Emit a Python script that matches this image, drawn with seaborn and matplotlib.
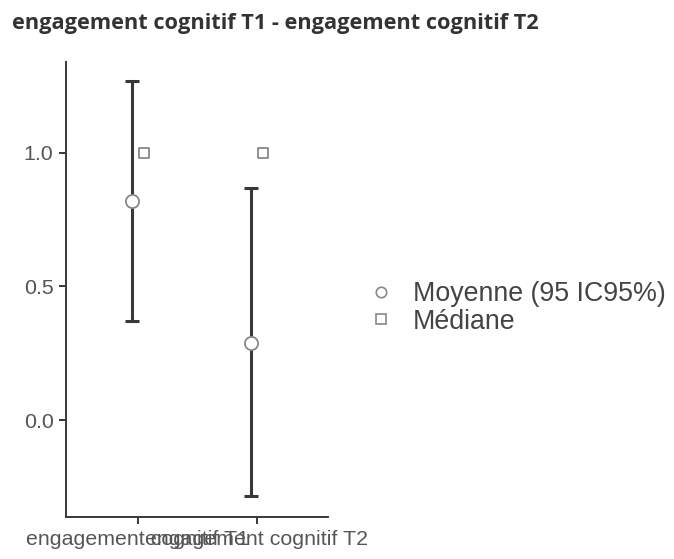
import numpy as np
import pandas as pd
import matplotlib
matplotlib.use("Agg")
import matplotlib.pyplot as plt
import seaborn as sns
from matplotlib.lines import Line2D

# ---- data ----
categories = ["engagement cognitif T1", "engagement cognitif T2"]
means = [0.82, 0.29]
ci_low = [0.37, -0.285]
ci_high = [1.27, 0.868]
medians = [1.0, 1.0]
title = "engagement cognitif T1 - engagement cognitif T2"

df = pd.DataFrame({
    "cat": categories,
    "mean": means,
    "low": ci_low,
    "high": ci_high,
    "median": medians,
})
df["pos"] = np.arange(len(df))

sns.set_style("ticks")
plt.rcParams["font.family"] = ["Liberation Sans", "DejaVu Sans"]

fig = plt.figure(figsize=(6.74, 5.59), dpi=100)
ax = fig.add_axes([0.098, 0.075, 0.389, 0.814])

dark = "#383838"
grey = "#888888"

# error bars (95% CI) slightly left of the tick, medians slightly right
off = 0.05
ax.errorbar(df["pos"] - off, df["mean"],
            yerr=[df["mean"] - df["low"], df["high"] - df["mean"]],
            fmt="none", ecolor=dark, elinewidth=2.2, capsize=4.8, capthick=2.2,
            zorder=2)
sns.scatterplot(x=df["pos"] - off, y=df["mean"], ax=ax, marker="o", s=90,
                color="white", edgecolor=grey, linewidth=1.3, zorder=3)
sns.scatterplot(x=df["pos"] + off, y=df["median"], ax=ax, marker="s", s=60,
                color="white", edgecolor=grey, linewidth=1.3, zorder=3)

ax.set_xlim(-0.6, 1.6)
ax.set_ylim(-0.363, 1.34)
ax.set_xticks(df["pos"])
ax.set_xticklabels(df["cat"])
ax.set_yticks([0.0, 0.5, 1.0])
ax.set_yticklabels(["0.0", "0.5", "1.0"])
ax.set_xlabel("")
ax.set_ylabel("")

for s in ["left", "bottom"]:
    ax.spines[s].set_color(dark)
    ax.spines[s].set_linewidth(1.4)
sns.despine(ax=ax)
ax.tick_params(axis="both", colors=dark, length=5, width=1.4,
               labelsize=15.4, labelcolor="#555555", pad=4)

handles = [
    Line2D([], [], marker="o", linestyle="none", markersize=7.5,
           markerfacecolor="white", markeredgecolor=grey, markeredgewidth=1.2),
    Line2D([], [], marker="s", linestyle="none", markersize=6.5,
           markerfacecolor="white", markeredgecolor=grey, markeredgewidth=1.2),
]
fig.legend(handles, ["Moyenne (95 IC95%)", "Médiane"],
           loc="center left", bbox_to_anchor=(0.533, 0.449), frameon=False,
           fontsize=19.3, labelcolor="#444444", handlelength=0.8,
           handletextpad=0.8, labelspacing=0.06, borderaxespad=0)

fig.text(0.018, 0.958, title, family=["Open Sans", "DejaVu Sans"],
         fontweight="bold", fontsize=15.7, color="#333333", va="center")

fig.savefig("out.png", dpi=100)
